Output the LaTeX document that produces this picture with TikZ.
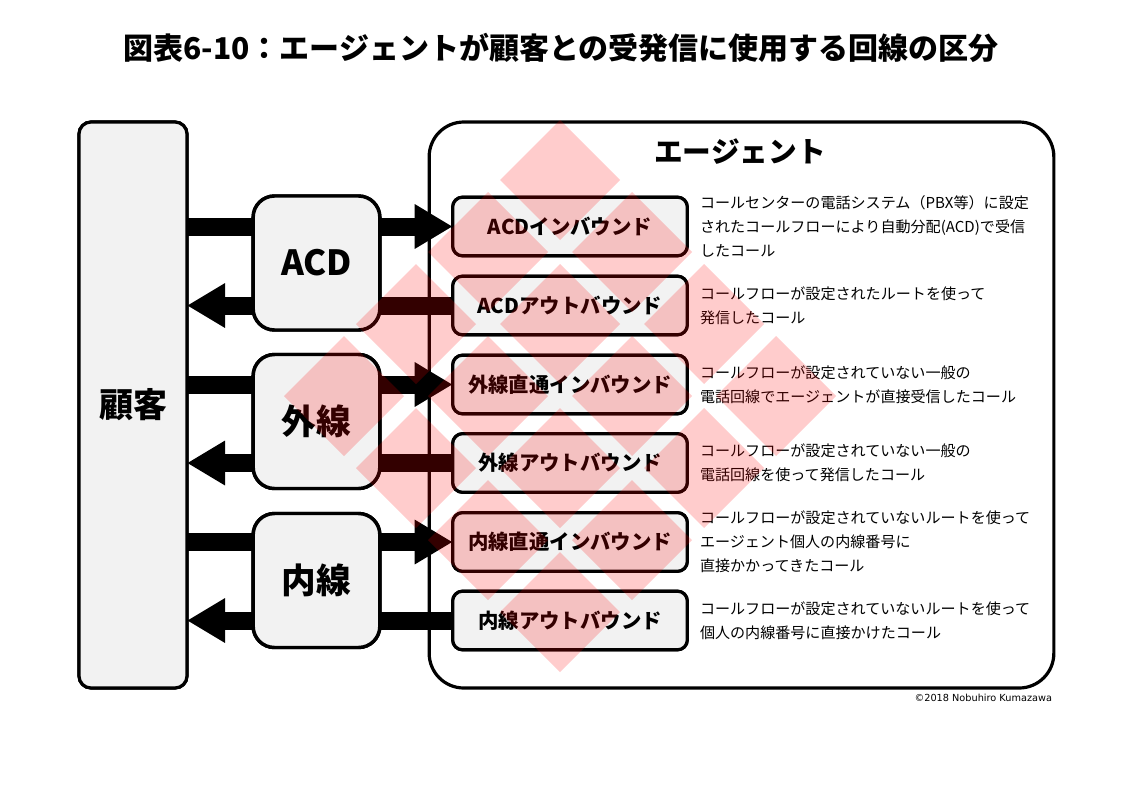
\documentclass[tikz,border=0pt]{standalone}
\usepackage{fontspec}
\newfontfamily\jp{Noto Sans CJK JP}
\newfontfamily\cpf{DejaVu Sans}
\usetikzlibrary{arrows.meta}
\definecolor{boxgray}{HTML}{F2F2F2}
\tikzset{
  jpnode/.style={font=\jp, inner sep=0pt, outer sep=0pt},
  sidebox/.style={jpnode, draw=black, line width=2.4pt, fill=boxgray, rounded corners=9pt,
    minimum width=81pt, minimum height=424.5pt, font=\jp\bfseries\fontsize{25.5}{30}\selectfont},
  linebox/.style={jpnode, draw=black, line width=2.6pt, fill=boxgray, rounded corners=16pt,
    minimum width=95pt, minimum height=100.5pt, font=\jp\bfseries\fontsize{26}{30}\selectfont},
  agentbox/.style={jpnode, draw=black, line width=2.4pt, fill=white, rounded corners=26pt,
    minimum width=468.5pt, minimum height=424.5pt},
  catbox/.style={jpnode, draw=black, line width=2.4pt, fill=boxgray, rounded corners=7.5pt,
    minimum width=176pt, minimum height=44pt, font=\jp\bfseries\fontsize{15.3}{18}\selectfont},
  desc/.style={jpnode, anchor=west, align=left, font=\jp\fontsize{11.3}{18}\selectfont},
  bar/.style={line width=13.5pt, draw=black},
  headtip/.style={-{Triangle[length=28.5pt,width=31.5pt]}},
  wm/.style={fill=red, fill opacity=0.2}
}
\begin{document}
\begin{tikzpicture}[x=0.75pt,y=-0.75pt]
\useasboundingbox (0,0) rectangle (1123,793);
\fill[white] (0,0) rectangle (1123,793);

% title
\node[jpnode, font=\jp\bfseries\fontsize{22.5}{27}\selectfont] (title) at (561,48)
  {図表6-10：エージェントが顧客との受発信に使用する回線の区分};

% agent container
\node[agentbox] (agent) at (741.5,405) {};
\node[jpnode, font=\jp\bfseries\fontsize{21.5}{26}\selectfont] (agtitle) at (740,152) {エージェント};

\path
  (570,226.5) coordinate (p1)
  (570,305.5) coordinate (p2)
  (570,384.5) coordinate (p3)
  (570,463)   coordinate (p4)
  (570,542)   coordinate (p5)
  (570,620.5) coordinate (p6);

% customer and line boxes (placed to define anchors)
\node[sidebox] (kok) at (133,405) {顧客};
\node[linebox] (acd) at (316.5,263) {ACD};
\node[linebox] (gai) at (316.5,421.5) {外線};
\node[linebox] (nai) at (316.5,580.5) {内線};

\node[catbox] (c1) at (p1) {ACDインバウンド};
\node[catbox] (c2) at (p2) {ACDアウトバウンド};
\node[catbox] (c3) at (p3) {外線直通インバウンド};
\node[catbox] (c4) at (p4) {外線アウトバウンド};
\node[catbox] (c5) at (p5) {内線直通インバウンド};
\node[catbox] (c6) at (p6) {内線アウトバウンド};

% connectors
\foreach \ln/\ci/\co in {acd/c1/c2, gai/c3/c4, nai/c5/c6}{
  \draw[bar] (kok.east |- \ci.west) -- (\ln.west |- \ci.west);
  \draw[bar, headtip] (\ln.east |- \ci.west) -- (\ci.west);
  \draw[bar] (\co.west) -- (\ln.east |- \co.west);
  \draw[bar, headtip] (\ln.west |- \co.west) -- (kok.east |- \co.west);
}
% redraw boxes over the bar ends
\node[sidebox] at (kok) {顧客};
\node[linebox] at (acd) {ACD};
\node[linebox] at (gai) {外線};
\node[linebox] at (nai) {内線};
\node[catbox] at (c1) {ACDインバウンド};
\node[catbox] at (c2) {ACDアウトバウンド};
\node[catbox] at (c3) {外線直通インバウンド};
\node[catbox] at (c4) {外線アウトバウンド};
\node[catbox] at (c5) {内線直通インバウンド};
\node[catbox] at (c6) {内線アウトバウンド};

% descriptions
\node[desc] (d1) at (700,226.5) {コールセンターの電話システム（PBX等）に設定\\されたコールフローにより自動分配(ACD)で受信\\したコール};
\node[desc] (d2) at (700,305.5) {コールフローが設定されたルートを使って\\発信したコール};
\node[desc] (d3) at (700,384.5) {コールフローが設定されていない一般の\\電話回線でエージェントが直接受信したコール};
\node[desc] (d4) at (700,463) {コールフローが設定されていない一般の\\電話回線を使って発信したコール};
\node[desc] (d5) at (700,542) {コールフローが設定されていないルートを使って\\エージェント個人の内線番号に\\直接かかってきたコール};
\node[desc] (d6) at (700,620.5) {コールフローが設定されていないルートを使って\\個人の内線番号に直接かけたコール};

% copyright
\node[jpnode, anchor=east, font=\cpf\fontsize{7.3}{9}\selectfont] (copy) at (1052,698) {©2018 Nobuhiro Kumazawa};

% watermark diamonds
\foreach \k/\j in {0/0,-1/1,1/1,-2/2,0/2,2/2,-3/3,-1/3,1/3,3/3,-2/4,0/4,2/4,-1/5,1/5,0/6}{
  \fill[wm] ({560+72*\k},{120+72*\j}) -- ++(60,60) -- ++(-60,60) -- ++(-60,-60) -- cycle;
}
\end{tikzpicture}
\end{document}
